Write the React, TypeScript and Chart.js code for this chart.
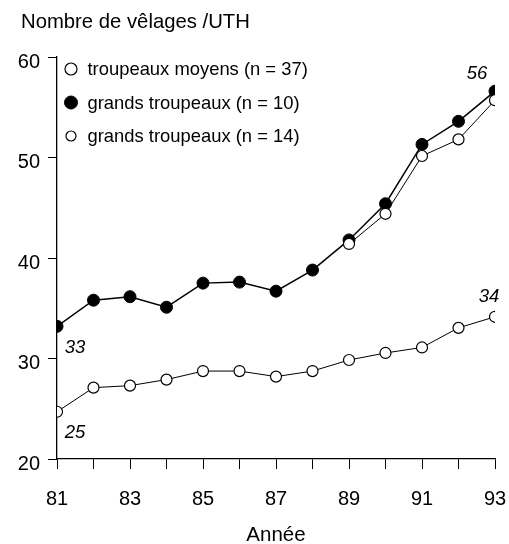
import React, { useEffect, useRef } from 'react';
import { Chart, registerables } from 'chart.js';
Chart.register(...registerables);

const years = [81, 82, 83, 84, 85, 86, 87, 88, 89, 90, 91, 92, 93];
const xTickLabels = ['81', '83', '85', '87', '89', '91', '93'];
const yTicks = [20, 30, 40, 50, 60];
const seriesLabels = [
  'troupeaux moyens (n = 37)',
  'grands troupeaux (n = 10)',
  'grands troupeaux (n = 14)',
];
const moyens = [24.7, 27.1, 27.3, 27.9, 28.75, 28.75, 28.2, 28.75, 29.85, 30.55, 31.1, 33.05, 34.15];
const grands10 = [33.2, 35.8, 36.15, 35.1, 37.5, 37.6, 36.7, 38.8, 41.8, 45.4, 51.3, 53.6, 56.6];
const grands14 = [null, null, null, null, null, null, null, null, 41.4, 44.4, 50.15, 51.8, 55.7];
const chartTitle = 'Nombre de vêlages /UTH';
const xTitle = 'Année';
// value annotations: [series index, point index, text]
const valueNotes: [number, number, string][] = [
  [1, 0, '33'],
  [0, 0, '25'],
  [1, 12, '56'],
  [0, 12, '34'],
];

const FONT = '"Liberation Sans", Arial, Helvetica, sans-serif';

const toPoints = (arr: (number | null)[]) => years.map((x, i) => ({ x, y: arr[i] }));

export default function App() {
  const ref = useRef<HTMLCanvasElement | null>(null);
  useEffect(() => {
    if (!ref.current) return;
    const noteOffsets: [number, number][] = [
      [18, 22],
      [18, 21],
      [-18, -17],
      [-6, -20],
    ];
    const legendMarkerRadius = [6, 6.5, 5];
    const textPlugin = {
      id: 'textPlugin',
      afterDraw(chart: any) {
        const ctx = chart.ctx;
        const area = chart.chartArea;
        ctx.save();
        ctx.fillStyle = '#000';
        // title
        ctx.font = `20.3px ${FONT}`;
        ctx.textAlign = 'left';
        ctx.textBaseline = 'middle';
        ctx.fillText(chartTitle, 21, 22);
        // legend
        chart.data.datasets.forEach((ds: any, i: number) => {
          const y = area.top + 12 + i * 33.5;
          const x = area.left + 14;
          ctx.beginPath();
          ctx.arc(x, y, legendMarkerRadius[i], 0, Math.PI * 2);
          ctx.fillStyle = ds.pointBackgroundColor;
          ctx.fill();
          ctx.lineWidth = ds.pointBorderWidth;
          ctx.strokeStyle = '#000';
          ctx.stroke();
          ctx.fillStyle = '#000';
          ctx.font = `18.4px ${FONT}`;
          ctx.textAlign = 'left';
          ctx.textBaseline = 'middle';
          ctx.fillText(ds.label, area.left + 30.5, y + 1);
        });
        // value notes
        ctx.font = `italic 18.5px ${FONT}`;
        ctx.textAlign = 'center';
        ctx.textBaseline = 'middle';
        valueNotes.forEach(([s, idx, text], k) => {
          const meta = chart.getDatasetMeta(s);
          const el = meta.data[idx];
          if (!el) return;
          const [dx, dy] = noteOffsets[k];
          ctx.fillText(text, el.x + dx, el.y + dy);
        });
        // x title
        ctx.font = `20.5px ${FONT}`;
        ctx.textAlign = 'center';
        ctx.fillText(xTitle, (area.left + area.right) / 2, 535);
        ctx.restore();
      },
    };

    const chart = new Chart(ref.current, {
      type: 'line',
      data: {
        datasets: [
          {
            label: seriesLabels[0],
            data: toPoints(moyens),
            borderColor: '#000',
            borderWidth: 1,
            pointBackgroundColor: '#fff',
            pointBorderColor: '#000',
            pointBorderWidth: 1.2,
            pointRadius: 5.5,
            tension: 0,
            order: 2,
          },
          {
            label: seriesLabels[1],
            data: toPoints(grands10),
            borderColor: '#000',
            borderWidth: 1.5,
            pointBackgroundColor: '#000',
            pointBorderColor: '#000',
            pointBorderWidth: 1,
            pointRadius: 6,
            tension: 0,
            order: 1,
          },
          {
            label: seriesLabels[2],
            data: toPoints(grands14),
            borderColor: '#000',
            borderWidth: 1,
            pointBackgroundColor: '#fff',
            pointBorderColor: '#000',
            pointBorderWidth: 1.2,
            pointRadius: 5.5,
            tension: 0,
            spanGaps: false,
            order: 0,
          },
        ] as any,
      },
      plugins: [textPlugin],
      options: {
        animation: false,
        responsive: true,
        maintainAspectRatio: false,
        layout: { padding: { top: 57, right: 14, left: 0, bottom: 0 } },
        plugins: {
          legend: { display: false },
          tooltip: { enabled: false },
          title: { display: false },
        },
        scales: {
          x: {
            type: 'linear',
            min: 81,
            max: 93,
            afterBuildTicks: (scale: any) => {
              scale.ticks = years.map((v) => ({ value: v }));
            },
            afterFit: (scale: any) => {
              scale.height = 85;
              scale.paddingLeft = 0;
              scale.paddingRight = 0;
            },
            ticks: {
              autoSkip: false,
              maxRotation: 0,
              padding: 18,
              color: '#000',
              font: { family: FONT, size: 20 },
              callback: (v: any) => (xTickLabels.includes(String(v)) ? String(v) : ''),
            },
            grid: { drawOnChartArea: false, drawTicks: true, tickLength: 10, color: '#000', lineWidth: 1 },
            border: { display: true, color: '#000', width: 1.3 },
          },
          y: {
            type: 'linear',
            min: 20,
            max: 60,
            afterBuildTicks: (scale: any) => {
              scale.ticks = yTicks.map((v) => ({ value: v }));
            },
            afterFit: (scale: any) => {
              scale.width = 57;
              scale.paddingTop = 0;
              scale.paddingBottom = 0;
            },
            ticks: {
              padding: 8,
              labelOffset: 5,
              color: '#000',
              font: { family: FONT, size: 20 },
            },
            grid: { drawOnChartArea: false, drawTicks: true, tickLength: 9, color: '#000', lineWidth: 1 },
            border: { display: true, color: '#000', width: 1.3 },
          },
        },
      } as any,
    });
    return () => chart.destroy();
  }, []);
  return (
    <div style={{ position: 'fixed', left: 0, top: 0, width: 509, height: 544, background: '#fff' }}>
      <canvas ref={ref} />
    </div>
  );
}
